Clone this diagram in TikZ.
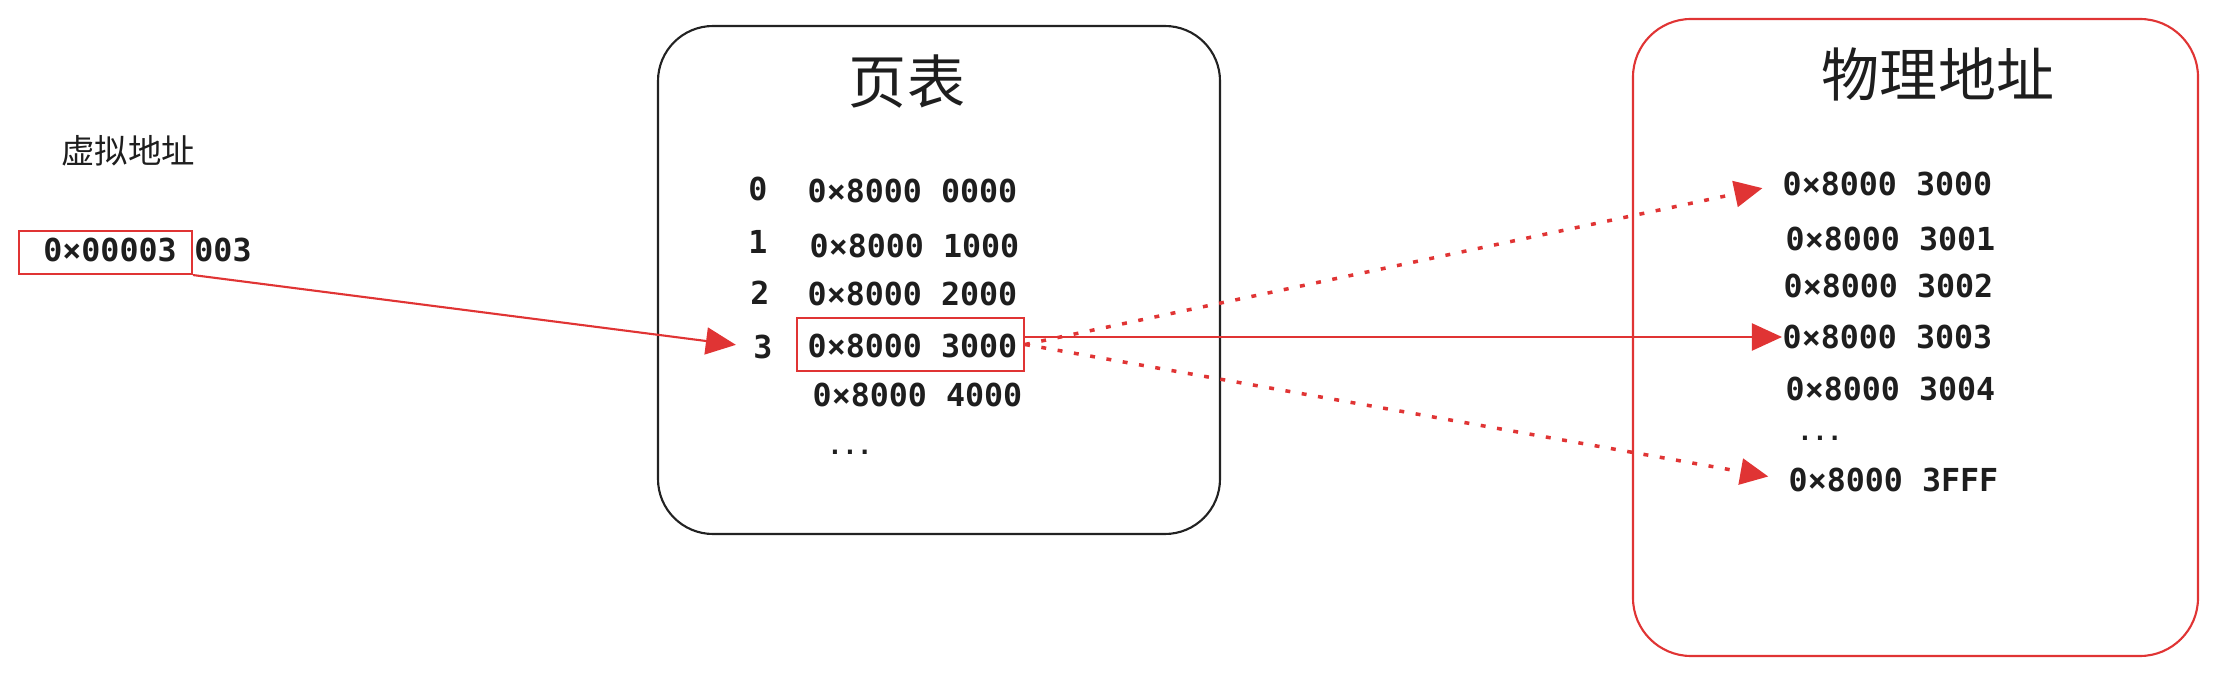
\documentclass[tikz,border=0pt]{standalone}
\usepackage{fontspec}
\usepackage{xcolor}
\usepackage{tikz}
\usetikzlibrary{fit}
\usetikzlibrary{arrows.meta}

\newfontfamily\monofont{DejaVu Sans Mono}
\newfontfamily\cjk{Noto Sans CJK SC}
\definecolor{linered}{RGB}{224,52,52}
\definecolor{textgray}{RGB}{30,30,30}
\definecolor{boxgray}{RGB}{34,34,34}

\begin{document}
\begin{tikzpicture}[x=0.01cm, y=-0.01cm,
	addr/.style={font=\monofont\bfseries\fontsize{9}{11}\selectfont, text=textgray, inner sep=0pt},
	dots/.style={font=\monofont\bfseries\fontsize{7}{9}\selectfont, text=textgray, inner sep=0pt},
	title/.style={font=\cjk\fontsize{16.5}{19}\selectfont, text=textgray, inner sep=0pt},
	redbox/.style={draw=linered, line width=0.6pt, inner sep=0pt},
	redarrow/.style={draw=linered, line width=0.6pt, -{Triangle[length=3mm, width=2.7mm]}},
	dotarrow/.style={draw=linered, line width=1pt, dash pattern=on 1.4pt off 3.3pt, -{Triangle[length=2.8mm, width=2.6mm]}, shorten >=2mm}]
	\useasboundingbox (0,0) rectangle (2217,676);

	\node[font=\cjk\fontsize{9.5}{11}\selectfont, text=textgray, inner sep=0pt] (VT) at (128,151) {虚拟地址};	% virtual address
	\node[redbox, fit={(19,231) (192,274)}] (VA) {};
	\node[addr] (VN) at (110,250) {0×00003};
	\node[addr] (VO) at (223,250) {003};

	\node[draw=boxgray, line width=0.6pt, rounded corners=5.5mm, fit={(658,26) (1220,534)}, inner sep=0pt] (PT) {};	% page table
	\node[title] (PTT) at (907,82) {页表};
	\node[addr] (I0) at (758,189) {0};
	\node[addr] (I1) at (758,242) {1};
	\node[addr] (I2) at (760,293) {2};
	\node[addr] (I3) at (763,347) {3};
	\node[addr, anchor=west] (P0) at (807,191) {0×8000 0000};
	\node[addr, anchor=west] (P1) at (809,246) {0×8000 1000};
	\node[addr, anchor=west] (P2) at (807,294) {0×8000 2000};
	\node[addr, anchor=west] (P3) at (807,346) {0×8000 3000};
	\node[addr, anchor=west] (P4) at (812,395) {0×8000 4000};
	\node[dots, anchor=west] (PD) at (827,452) {...};
	\node[redbox, fit={(797,318) (1024,371)}] (R3) {};

	\node[draw=linered, line width=0.6pt, rounded corners=5.8mm, fit={(1633,19) (2198,656)}, inner sep=0pt] (PM) {};	% physical memory
	\node[title] (PMT) at (1938,74) {物理地址};
	\node[addr, anchor=west] (F0) at (1782,184) {0×8000 3000};
	\node[addr, anchor=west] (F1) at (1785,239) {0×8000 3001};
	\node[addr, anchor=west] (F2) at (1783,286) {0×8000 3002};
	\node[addr, anchor=west] (F3) at (1782,337) {0×8000 3003};
	\node[addr, anchor=west] (F4) at (1785,389) {0×8000 3004};
	\node[dots, anchor=west] (FD) at (1797,438) {...};
	\node[addr, anchor=west] (FF) at (1788,480) {0×8000 3FFF};

	\draw[redarrow, shorten >=1.7mm] (VA.south east) -- (I3.west);	% arrows
	\draw[dotarrow] (R3.east) -- (F0.west);
	\draw[redarrow] (F3.west -| R3.east) -- (F3.west);
	\draw[dotarrow] (R3.east) -- (FF.west);
\end{tikzpicture}
\end{document}
